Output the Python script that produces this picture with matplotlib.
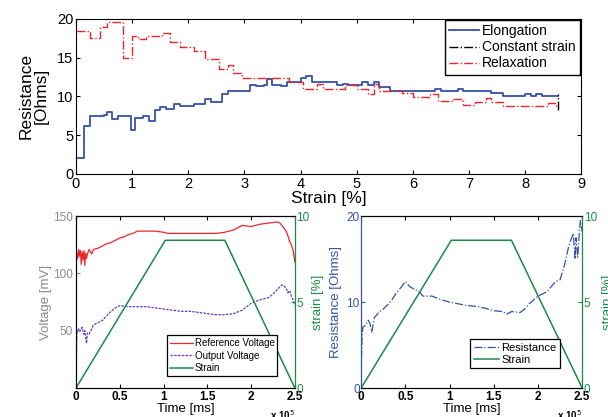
import matplotlib
matplotlib.use('Agg')
import matplotlib.pyplot as plt
from matplotlib.lines import Line2D

plt.rcParams['font.family'] = ['Liberation Sans', 'DejaVu Sans']
plt.rcParams['xtick.direction'] = 'in'
plt.rcParams['ytick.direction'] = 'in'

# ---- top plot: resistance vs strain (step data)
x_elong = [0, 0.15, 0.25, 0.4, 0.5, 0.55, 0.65, 0.75, 0.95, 0.98, 1.05, 1.2, 1.3, 1.4,
           1.5, 1.6, 1.75, 1.85, 2.1, 2.3, 2.4, 2.6, 2.7, 3.1, 3.2, 3.35, 3.4, 3.5, 3.65,
           3.75, 3.85, 4.0, 4.1, 4.2, 4.65, 4.75, 4.85, 5.1, 5.2, 5.3, 5.4, 5.6, 6.4, 6.5,
           6.8, 6.9, 7.4, 7.6, 8.0, 8.1, 8.2, 8.3, 8.58]
r_elong = [2.0, 6.2, 7.4, 7.5, 7.6, 8.0, 7.1, 7.4, 7.5, 5.6, 7.2, 7.4, 6.8, 8.3,
           8.6, 8.4, 9.0, 8.7, 9.0, 9.7, 9.3, 10.3, 10.7, 11.5, 11.3, 11.4, 12.2, 11.5, 11.3,
           11.9, 11.8, 12.3, 12.6, 11.8, 11.4, 11.6, 11.4, 11.8, 11.4, 11.8, 11.2, 10.7, 11.0, 10.7,
           11.0, 10.7, 10.4, 10.0, 10.3, 10.0, 10.3, 10.0, 10.0]

x_relax = [0, 0.25, 0.43, 0.55, 0.84, 0.99, 1.1, 1.25, 1.53, 1.68, 1.85, 2.1, 2.3, 2.55,
           2.7, 2.8, 2.95, 3.8, 4.05, 4.3, 4.4, 4.8, 5.0, 5.2, 5.3, 5.4, 5.8, 6.0, 6.3,
           6.45, 6.7, 6.9, 7.1, 7.3, 7.4, 7.6, 7.8, 8.2, 8.4, 8.55, 8.58]
r_relax = [18.4, 17.5, 19.0, 19.6, 15.0, 17.8, 17.4, 17.8, 18.2, 17.0, 16.4, 15.8, 14.8, 13.5,
           14.0, 13.0, 12.4, 11.8, 11.0, 11.6, 11.0, 11.4, 11.0, 10.3, 11.6, 10.7, 10.4, 9.9, 10.3,
           9.4, 9.7, 8.9, 9.3, 9.8, 9.3, 8.8, 8.7, 8.8, 9.1, 8.8, 8.8]

x_const = [8.58, 8.58]
r_const = [8.3, 10.3]

# ---- bottom plots: time in units of 1e5 ms
t_strain = [0, 1.02, 1.7, 2.5]
strain = [0, 8.6, 8.6, 0]

t_ref = [0, 0.005, 0.01, 0.02, 0.03, 0.04, 0.05, 0.06, 0.07, 0.08, 0.09, 0.1, 0.11, 0.12,
         0.13, 0.15, 0.18, 0.2, 0.25, 0.3, 0.35, 0.4, 0.45, 0.5, 0.55, 0.6, 0.65, 0.7, 0.8,
         0.9, 1.0, 1.05, 1.2, 1.4, 1.6, 1.7, 1.8, 1.85, 1.9, 2.0, 2.1, 2.2, 2.3, 2.33, 2.36,
         2.4, 2.42, 2.44, 2.46, 2.48, 2.5]
v_ref = [93, 110, 118, 113, 121, 115, 120, 108, 119, 112, 120, 107, 118, 113,
         117, 121, 117, 121, 122, 124, 126, 127, 129, 131, 132, 134, 135, 137, 137,
         137, 136, 135, 135, 135, 135, 136, 138, 140, 142, 141, 143, 144, 145, 144, 141,
         137, 133, 128, 125, 120, 110]

t_out = [0, 0.01, 0.03, 0.05, 0.07, 0.09, 0.1, 0.12, 0.13, 0.15, 0.2, 0.25, 0.3, 0.35,
         0.4, 0.45, 0.5, 0.6, 0.7, 0.8, 0.9, 1.0, 1.1, 1.2, 1.3, 1.4, 1.5, 1.6, 1.7, 1.8,
         1.9, 2.0, 2.1, 2.2, 2.25, 2.3, 2.35, 2.38, 2.4, 2.42, 2.44, 2.46, 2.48, 2.5]
v_out = [14, 48, 52, 50, 53, 47, 50, 39, 48, 47, 55, 57, 59, 63,
         67, 70, 72, 71, 71, 71, 70, 69, 68, 67, 67, 66, 65, 64, 64, 65,
         68, 74, 77, 79, 82, 86, 90, 89, 87, 83, 85, 80, 77, 72]

t_res = [0, 0.01, 0.02, 0.05, 0.08, 0.1, 0.12, 0.15, 0.2, 0.25, 0.3, 0.35, 0.4, 0.45,
         0.5, 0.55, 0.6, 0.65, 0.7, 0.8, 0.9, 1.0, 1.1, 1.2, 1.3, 1.4, 1.5, 1.6, 1.65,
         1.7, 1.8, 1.85, 1.9, 2.0, 2.1, 2.2, 2.25, 2.3, 2.35, 2.4, 2.42, 2.43, 2.45, 2.47,
         2.48, 2.5]
r_res = [1.9, 6.0, 7.1, 7.3, 7.9, 7.5, 6.5, 8.2, 8.8, 9.2, 9.7, 10.3, 11.1, 11.7,
         12.4, 11.8, 11.5, 11.3, 10.7, 10.7, 10.3, 10.0, 9.8, 9.6, 9.5, 9.3, 9.0, 8.9, 8.6,
         8.9, 8.8, 9.2, 9.8, 10.7, 11.2, 12.4, 12.6, 14.3, 16.6, 18.0, 15.0, 17.5, 15.2, 18.5,
         19.5, 18.2]

red = '#e8262b'
blue = '#3550a8'
green = '#1a8a4a'
purple = '#5b3cc4'
grey = '#8a8a8a'

fig = plt.figure(figsize=(6.08, 4.17), dpi=100)

# ---------------- top
ax = fig.add_axes([0.125, 0.583, 0.831, 0.372])
ax.plot(x_elong, r_elong, color=blue, lw=1.3, drawstyle='steps-post', label='Elongation')
ax.plot(x_const, r_const, color='black', lw=1.0, ls='-.', label='Constant strain')
ax.plot(x_relax, r_relax, color=red, lw=1.0, ls='-.', drawstyle='steps-post', label='Relaxation')
ax.set_xlim(0, 9)
ax.set_ylim(0, 20)
ax.set_xticks(range(10))
ax.set_yticks([0, 5, 10, 15, 20])
ax.tick_params(labelsize=10.5, top=True, right=True, length=3, pad=2)
ax.set_xlabel('Strain [%]', fontsize=12.5, labelpad=0)
ax.set_ylabel('Resistance\n[Ohms]', fontsize=12.5, labelpad=6, linespacing=1.0)
leg = ax.legend(loc='upper right', fontsize=10, fancybox=False, edgecolor='black',
                framealpha=1, borderaxespad=0.1, handlelength=2.2, labelspacing=0.15,
                handletextpad=0.2, borderpad=0.3)
leg.get_frame().set_linewidth(1.0)

# ---------------- bottom left
axl = fig.add_axes([0.125, 0.0695, 0.360, 0.412])
axl.plot(t_ref, v_ref, color=red, lw=0.9)
axl.plot(t_out, v_out, color=purple, lw=0.9, ls=(0, (2, 1)))
axl.set_xlim(0, 2.5)
axl.set_ylim(0, 150)
axl.set_yticks([50, 100, 150])
axl.set_xticks([0, 0.5, 1, 1.5, 2, 2.5])
axl.set_xticklabels(['0', '0.5', '1', '1.5', '2', '2.5'])
axl.tick_params(axis='y', colors=grey, labelsize=8.5, length=3, pad=2)
axl.tick_params(axis='x', labelsize=8.5, length=3, pad=2, top=True)
for lab in axl.get_xticklabels():
    lab.set_fontweight('bold')
axl.set_ylabel('Voltage [mV]', color=grey, fontsize=9.5, labelpad=1)
axl.set_xlabel('Time [ms]', fontsize=9.5, labelpad=0)
axl.text(1.0, -0.115, r'x 10$^5$', transform=axl.transAxes, ha='right', va='top', fontsize=7,
         fontweight='bold')
axl2 = axl.twinx()
axl2.plot(t_strain, strain, color=green, lw=1.1)
axl2.set_ylim(0, 10)
axl2.set_yticks([0, 5, 10])
axl2.tick_params(axis='y', colors=green, labelsize=8.5, length=3, pad=1)
axl2.spines['right'].set_color(green)
axl2.set_ylabel('strain [%]', color=green, fontsize=9.5, labelpad=2)
hl = [Line2D([], [], color=red, lw=0.9), Line2D([], [], color=purple, lw=0.9, ls=(0, (2, 1))),
      Line2D([], [], color=green, lw=1.1)]
lg = axl2.legend(hl, ['Reference Voltage', 'Output Voltage', 'Strain'], loc='lower right',
                 bbox_to_anchor=(0.92, 0.07), fontsize=7, fancybox=False, edgecolor='black',
                 framealpha=1, handlelength=2.3, labelspacing=0.25, handletextpad=0.2,
                 borderpad=0.3, borderaxespad=0)
lg.get_frame().set_linewidth(0.9)

# ---------------- bottom right
axr = fig.add_axes([0.594, 0.0695, 0.3635, 0.412])
axr.plot(t_res, r_res, color=blue, lw=0.9, ls='-.')
axr.set_xlim(0, 2.5)
axr.set_ylim(0, 20)
axr.set_yticks([0, 10, 20])
axr.set_xticks([0, 0.5, 1, 1.5, 2, 2.5])
axr.set_xticklabels(['0', '0.5', '1', '1.5', '2', '2.5'])
axr.tick_params(axis='y', colors=blue, labelsize=8.5, length=3, pad=1)
axr.tick_params(axis='x', labelsize=8.5, length=3, pad=2, top=True)
for lab in axr.get_xticklabels():
    lab.set_fontweight('bold')
axr.spines['left'].set_color(blue)
axr.set_ylabel('Resistance [Ohms]', color=blue, fontsize=9.5, labelpad=3)
axr.set_xlabel('Time [ms]', fontsize=9.5, labelpad=0)
axr.text(1.0, -0.115, r'x 10$^5$', transform=axr.transAxes, ha='right', va='top', fontsize=7,
         fontweight='bold')
axr2 = axr.twinx()
axr2.plot(t_strain, strain, color=green, lw=1.1)
axr2.set_ylim(0, 10)
axr2.set_yticks([0, 5, 10])
axr2.tick_params(axis='y', colors=green, labelsize=8.5, length=3, pad=1)
axr2.spines['right'].set_color(green)
axr2.spines['left'].set_color(blue)
axr2.set_ylabel('strain [%]', color=green, fontsize=9.5, labelpad=4)
hr = [Line2D([], [], color=blue, lw=0.9, ls='-.'), Line2D([], [], color=green, lw=1.1)]
lg2 = axr2.legend(hr, ['Resistance', 'Strain'], loc='lower right', bbox_to_anchor=(0.9, 0.115),
                  fontsize=8, fancybox=False, edgecolor='black', framealpha=1,
                  handlelength=2.3, labelspacing=0.2, handletextpad=0.2, borderpad=0.3,
                  borderaxespad=0)
lg2.get_frame().set_linewidth(0.9)

fig.savefig('out.png', dpi=100)
